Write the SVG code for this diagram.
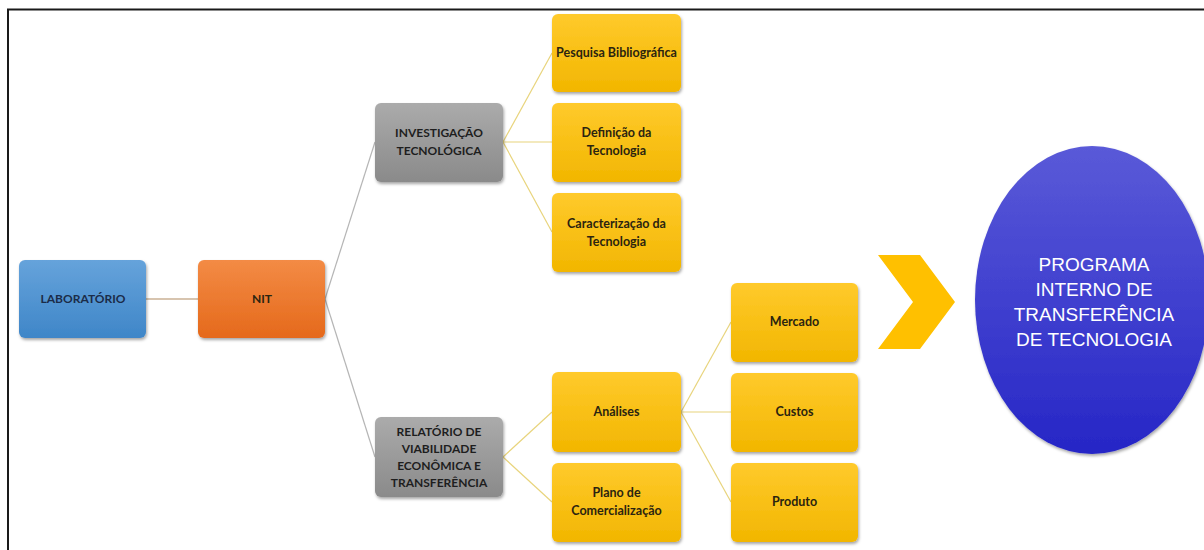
<svg xmlns="http://www.w3.org/2000/svg" width="1204" height="550" viewBox="0 0 1204 550">
<defs>
<linearGradient id="gBlue" x1="0" y1="0" x2="0" y2="1"><stop offset="0" stop-color="#66a3db"/><stop offset="1" stop-color="#3f86c8"/></linearGradient>
<linearGradient id="gOrange" x1="0" y1="0" x2="0" y2="1"><stop offset="0" stop-color="#f38b45"/><stop offset="1" stop-color="#e5691b"/></linearGradient>
<linearGradient id="gGray" x1="0" y1="0" x2="0" y2="1"><stop offset="0" stop-color="#ababab"/><stop offset="1" stop-color="#8a8a8a"/></linearGradient>
<linearGradient id="gYellow" x1="0" y1="0" x2="0" y2="1"><stop offset="0" stop-color="#ffca2c"/><stop offset="1" stop-color="#f2b600"/></linearGradient>
<linearGradient id="gEll" x1="0" y1="0" x2="0" y2="1"><stop offset="0" stop-color="#5a5ad8"/><stop offset="1" stop-color="#2626c6"/></linearGradient>
<filter id="sh" x="-10%" y="-10%" width="125%" height="130%"><feDropShadow dx="1" dy="2" stdDeviation="1.6" flood-color="#000" flood-opacity="0.35"/></filter>
</defs>
<style>
.box{filter:url(#sh)}
.t{font-family:Lato,"Liberation Sans",sans-serif;font-weight:700;text-anchor:middle}
.cap{font-size:12px}
.mix{font-size:12.5px}
.dk{fill:#2b2410}
.gy{fill:#1e1e1e}
.bl{fill:#1b2c48}
.et{font-family:"Liberation Sans",Arial,sans-serif;font-size:19px;fill:#ffffff;text-anchor:middle}
.cg{stroke:#b5b5b5;stroke-width:1.2;fill:none}
.cy{stroke:#e8d47c;stroke-width:1.2;fill:none}
.cb{stroke:#b08a60;stroke-width:1.2;fill:none}
</style>
<rect width="1204" height="550" fill="#ffffff"/>
<path d="M8,550 V9.5 H1204" fill="none" stroke="#1a1a1a" stroke-width="2"/>
<g id="connectors">
<line class="cb" x1="146" y1="299" x2="198" y2="299"/>
<line class="cg" x1="325" y1="299" x2="375" y2="142"/>
<line class="cg" x1="325" y1="299" x2="375" y2="457"/>
<line class="cy" x1="503" y1="142" x2="552" y2="53"/>
<line class="cy" x1="503" y1="142" x2="552" y2="142"/>
<line class="cy" x1="503" y1="142" x2="552" y2="232"/>
<line class="cy" x1="503" y1="457" x2="552" y2="412"/>
<line class="cy" x1="503" y1="457" x2="552" y2="502"/>
<line class="cy" x1="681" y1="412" x2="731" y2="322"/>
<line class="cy" x1="681" y1="412" x2="731" y2="412"/>
<line class="cy" x1="681" y1="412" x2="731" y2="502"/>
</g>
<g id="laboratorio"><rect class="box" x="19" y="260" width="127" height="78" rx="6" fill="url(#gBlue)"/><text class="t cap bl" x="83" y="303">LABORATÓRIO</text></g>
<g id="nit"><rect class="box" x="198" y="260" width="127" height="78" rx="6" fill="url(#gOrange)"/><text class="t cap dk" x="262" y="303">NIT</text></g>
<g id="investigacao"><rect class="box" x="375" y="103" width="128" height="79" rx="6" fill="url(#gGray)"/><text class="t cap gy" x="439" y="137">INVESTIGAÇÃO</text><text class="t cap gy" x="439" y="155">TECNOLÓGICA</text></g>
<g id="relatorio"><rect class="box" x="375" y="417" width="128" height="80" rx="6" fill="url(#gGray)"/><text class="t cap gy" x="439" y="436">RELATÓRIO DE</text><text class="t cap gy" x="439" y="453">VIABILIDADE</text><text class="t cap gy" x="439" y="470">ECONÔMICA E</text><text class="t cap gy" x="439" y="487">TRANSFERÊNCIA</text></g>
<g id="pesquisa"><rect class="box" x="552" y="14" width="129" height="78" rx="6" fill="url(#gYellow)"/><text class="t mix dk" x="616.5" y="57">Pesquisa Bibliográfica</text></g>
<g id="definicao"><rect class="box" x="552" y="103" width="129" height="79" rx="6" fill="url(#gYellow)"/><text class="t mix dk" x="616.5" y="137">Definição da</text><text class="t mix dk" x="616.5" y="155">Tecnologia</text></g>
<g id="caracterizacao"><rect class="box" x="552" y="193" width="129" height="79" rx="6" fill="url(#gYellow)"/><text class="t mix dk" x="616.5" y="228">Caracterização da</text><text class="t mix dk" x="616.5" y="246">Tecnologia</text></g>
<g id="analises"><rect class="box" x="552" y="372" width="129" height="80" rx="6" fill="url(#gYellow)"/><text class="t mix dk" x="616.5" y="416">Análises</text></g>
<g id="plano"><rect class="box" x="552" y="463" width="129" height="79" rx="6" fill="url(#gYellow)"/><text class="t mix dk" x="616.5" y="497">Plano de</text><text class="t mix dk" x="616.5" y="515">Comercialização</text></g>
<g id="mercado"><rect class="box" x="731" y="283" width="127" height="79" rx="6" fill="url(#gYellow)"/><text class="t mix dk" x="794.5" y="326">Mercado</text></g>
<g id="custos"><rect class="box" x="731" y="373" width="127" height="79" rx="6" fill="url(#gYellow)"/><text class="t mix dk" x="794.5" y="416">Custos</text></g>
<g id="produto"><rect class="box" x="731" y="463" width="127" height="79" rx="6" fill="url(#gYellow)"/><text class="t mix dk" x="794.5" y="506">Produto</text></g>
<g id="chevron"><path d="M878,255 L920,255 L955,302 L920,349 L878,349 L913,302 Z" fill="#ffc000"/></g>
<g id="programa"><ellipse cx="1092" cy="300" rx="117" ry="154" fill="url(#gEll)" filter="url(#sh)"/>
<text class="et" x="1094" y="271">PROGRAMA</text><text class="et" x="1094" y="296">INTERNO DE</text><text class="et" x="1094" y="321">TRANSFERÊNCIA</text><text class="et" x="1094" y="346">DE TECNOLOGIA</text></g>
</svg>
